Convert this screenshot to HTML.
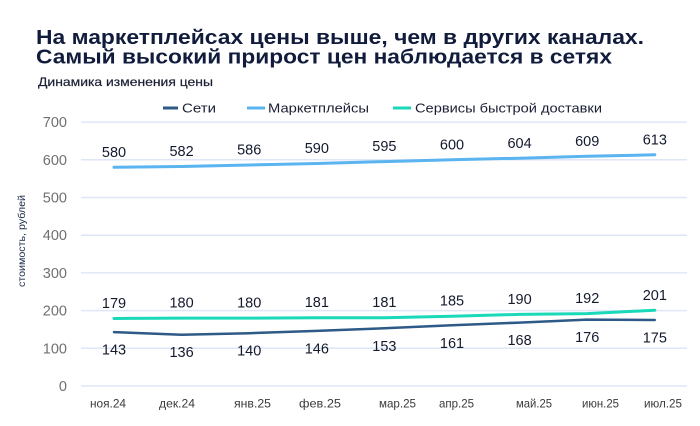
<!DOCTYPE html>
<html><head><meta charset="utf-8"><style>
html,body{margin:0;padding:0;background:#fff;}
svg{display:block;}
text{font-family:"Liberation Sans","Noto Sans CJK SC",sans-serif;}
</style></head><body>
<svg width="700" height="426" viewBox="0 0 700 426" xmlns="http://www.w3.org/2000/svg">
<rect width="700" height="426" fill="#fff"/>
<!-- title -->
<text x="36" y="44" font-size="20" font-weight="bold" fill="#111c3d" textLength="608" lengthAdjust="spacingAndGlyphs">На маркетплейсах цены выше, чем в других каналах.</text>
<text x="36" y="63.5" font-size="20" font-weight="bold" fill="#111c3d" textLength="576" lengthAdjust="spacingAndGlyphs">Самый высокий прирост цен наблюдается в сетях</text>
<text x="38" y="86" font-size="12" fill="#1a1f33" stroke="#1a1f33" stroke-width="0.2" textLength="175" lengthAdjust="spacingAndGlyphs">Динамика изменения цены</text>
<!-- legend -->
<line x1="163" y1="108" x2="178" y2="108" stroke="#2e5a88" stroke-width="3"/>
<text x="182" y="112.5" font-size="13" fill="#1a1f33" textLength="34" lengthAdjust="spacingAndGlyphs">Сети</text>
<line x1="247" y1="108" x2="265" y2="108" stroke="#5ab4f0" stroke-width="3"/>
<text x="268" y="112.5" font-size="13" fill="#1a1f33" textLength="101" lengthAdjust="spacingAndGlyphs">Маркетплейсы</text>
<line x1="393" y1="108" x2="411" y2="108" stroke="#19d9b8" stroke-width="3"/>
<text x="415" y="112.5" font-size="13" fill="#1a1f33" textLength="187" lengthAdjust="spacingAndGlyphs">Сервисы быстрой доставки</text>
<!-- gridlines -->
<g stroke="#dfe6f6" stroke-width="1.5">
<line x1="81" y1="386" x2="687" y2="386"/>
<line x1="81" y1="348.3" x2="687" y2="348.3"/>
<line x1="81" y1="310.6" x2="687" y2="310.6"/>
<line x1="81" y1="272.9" x2="687" y2="272.9"/>
<line x1="81" y1="235.2" x2="687" y2="235.2"/>
<line x1="81" y1="197.5" x2="687" y2="197.5"/>
<line x1="81" y1="159.8" x2="687" y2="159.8"/>
<line x1="81" y1="122.1" x2="687" y2="122.1"/>
</g>
<!-- y tick labels -->
<g font-size="14.5" fill="#707070" text-anchor="end">
<text x="67" y="391">0</text>
<text x="67" y="353.3">100</text>
<text x="67" y="315.6">200</text>
<text x="67" y="277.9">300</text>
<text x="67" y="240.2">400</text>
<text x="67" y="202.5">500</text>
<text x="67" y="164.8">600</text>
<text x="67" y="127.1">700</text>
</g>
<!-- y axis title -->
<text transform="translate(25,241) rotate(-90)" text-anchor="middle" font-size="10" fill="#1b2a4a" textLength="92" lengthAdjust="spacingAndGlyphs">стоимость, рублей</text>
<!-- x labels -->
<g font-size="12" fill="#3a3a3a">
<text x="90" y="407.5" textLength="36" lengthAdjust="spacingAndGlyphs">ноя.24</text>
<text x="159" y="407.5" textLength="36" lengthAdjust="spacingAndGlyphs">дек.24</text>
<text x="234" y="407.5" textLength="37" lengthAdjust="spacingAndGlyphs">янв.25</text>
<text x="299" y="407.5" textLength="42" lengthAdjust="spacingAndGlyphs">фев.25</text>
<text x="379" y="407.5" textLength="37" lengthAdjust="spacingAndGlyphs">мар.25</text>
<text x="439" y="407.5" textLength="35" lengthAdjust="spacingAndGlyphs">апр.25</text>
<text x="516" y="407.5" textLength="36" lengthAdjust="spacingAndGlyphs">май.25</text>
<text x="582" y="407.5" textLength="37" lengthAdjust="spacingAndGlyphs">июн.25</text>
<text x="644" y="407.5" textLength="38" lengthAdjust="spacingAndGlyphs">июл.25</text>
</g>
<!-- series lines -->
<polyline fill="none" stroke="#5ab4f0" stroke-width="3" stroke-linejoin="round" stroke-linecap="round"
 points="114,167.3 181.6,166.5 249.2,165.0 316.8,163.5 384.4,161.6 452,159.7 519.6,158.2 587.2,156.3 654.8,154.8"/>
<polyline fill="none" stroke="#19d9b8" stroke-width="3" stroke-linejoin="round" stroke-linecap="round"
 points="114,318.5 181.6,318.1 249.2,318.1 316.8,317.7 384.4,317.7 452,316.2 519.6,314.4 587.2,313.6 654.8,310.2"/>
<polyline fill="none" stroke="#2e5a88" stroke-width="2.5" stroke-linejoin="round" stroke-linecap="round"
 points="114,332.1 181.6,334.7 249.2,333.2 316.8,330.9 384.4,328.3 452,325.3 519.6,322.6 587.2,319.6 654.8,320.0"/>
<!-- data labels -->
<g font-size="14.5" fill="#141a2e" text-anchor="middle">
<text x="114" y="156.9">580</text>
<text x="181.6" y="156.1">582</text>
<text x="249.2" y="154.6">586</text>
<text x="316.8" y="153.1">590</text>
<text x="384.4" y="151.2">595</text>
<text x="452" y="149.3">600</text>
<text x="519.6" y="147.8">604</text>
<text x="587.2" y="145.9">609</text>
<text x="654.8" y="144.4">613</text>

<text x="114" y="307.9">179</text>
<text x="181.6" y="307.5">180</text>
<text x="249.2" y="307.5">180</text>
<text x="316.8" y="307.1">181</text>
<text x="384.4" y="307.1">181</text>
<text x="452" y="305.6">185</text>
<text x="519.6" y="303.8">190</text>
<text x="587.2" y="303.0">192</text>
<text x="654.8" y="300.2">201</text>

<text x="114" y="354.6">143</text>
<text x="181.6" y="357.2">136</text>
<text x="249.2" y="355.7">140</text>
<text x="316.8" y="353.4">146</text>
<text x="384.4" y="350.8">153</text>
<text x="452" y="347.8">161</text>
<text x="519.6" y="345.1">168</text>
<text x="587.2" y="342.1">176</text>
<text x="654.8" y="342.5">175</text>
</g>
</svg>
</body></html>
